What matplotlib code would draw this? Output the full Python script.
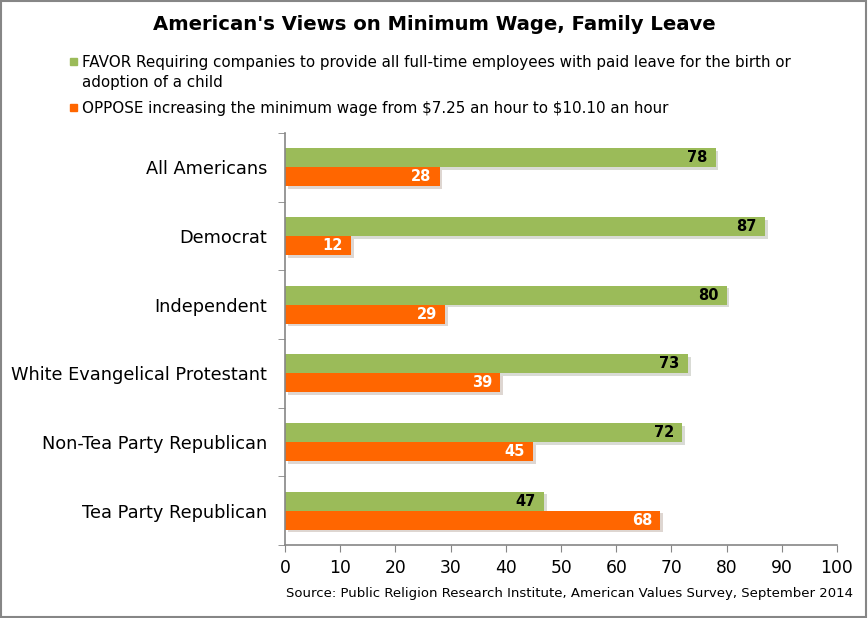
import matplotlib.pyplot as plt
import matplotlib.patheffects as pe
from matplotlib.patches import Rectangle
from matplotlib.ticker import FixedLocator

categories = ['All Americans', 'Democrat', 'Independent',
              'White Evangelical Protestant', 'Non-Tea Party Republican',
              'Tea Party Republican']
favor = [78, 87, 80, 73, 72, 47]
oppose = [28, 12, 29, 39, 45, 68]
x_ticks = [0, 10, 20, 30, 40, 50, 60, 70, 80, 90, 100]

title = "American's Views on Minimum Wage, Family Leave"
favor_label = ['FAVOR Requiring companies to provide all full-time employees with paid leave for the birth or',
               'adoption of a child']
oppose_label = 'OPPOSE increasing the minimum wage from \\$7.25 an hour to \\$10.10 an hour'
source = 'Source: Public Religion Research Institute, American Values Survey, September 2014'

GREEN = '#9BBB59'
ORANGE = '#FF6600'
GREY = '#868686'

plt.rcParams['font.family'] = ['DejaVu Sans']

fig = plt.figure(figsize=(8.68, 6.18), dpi=100)
ax = fig.add_axes([285 / 868, 1 - 545 / 618, 552 / 868, 412 / 618])

h = 0.277
pos = list(range(len(categories)))
shadow = [pe.SimplePatchShadow(offset=(2, -2), alpha=0.18), pe.Normal()]

b1 = ax.barh([p - h / 2 for p in pos], favor, height=h, color=GREEN)
b2 = ax.barh([p + h / 2 for p in pos], oppose, height=h, color=ORANGE)
for bar in list(b1) + list(b2):
    bar.set_path_effects(shadow)

# value labels inside bar ends
for p, v in zip(pos, favor):
    ax.annotate(str(v), (v, p - h / 2), xytext=(-6, 0), textcoords='offset points',
                ha='right', va='center', fontsize=10.5, fontweight='bold', color='black')
for p, v in zip(pos, oppose):
    ax.annotate(str(v), (v, p + h / 2), xytext=(-6, 0), textcoords='offset points',
                ha='right', va='center', fontsize=10.5, fontweight='bold', color='white')

ax.set_xlim(0, 100)
ax.set_ylim(len(categories) - 0.5, -0.5)
ax.set_xticks(x_ticks)
ax.set_xticklabels([str(t) for t in x_ticks], fontsize=12.3)
ax.set_yticks(pos)
ax.set_yticklabels(categories, fontsize=12.8)
ax.yaxis.set_minor_locator(FixedLocator([p - 0.5 for p in pos] + [len(pos) - 0.5]))
ax.tick_params(axis='y', which='major', length=0, pad=13)
ax.tick_params(axis='y', which='minor', length=5, color=GREY, direction='out')
ax.tick_params(axis='x', length=5, color=GREY, direction='out', pad=5)

for s in ['top', 'right']:
    ax.spines[s].set_visible(False)
for s in ['left', 'bottom']:
    ax.spines[s].set_color(GREY)
    ax.spines[s].set_linewidth(1.2)

# title
fig.text(434 / 868, 1 - 25 / 618, title, ha='center', va='center',
         fontsize=14.1, fontweight='bold')

# legend drawn by hand
fig.patches.append(Rectangle((70 / 868, 1 - 65 / 618), 7 / 868, 7 / 618,
                             transform=fig.transFigure, color=GREEN))
fig.text(82 / 868, 1 - 62 / 618, favor_label[0], ha='left', va='center', fontsize=10.9)
fig.text(82 / 868, 1 - 82 / 618, favor_label[1], ha='left', va='center', fontsize=10.9)
fig.patches.append(Rectangle((70 / 868, 1 - 111 / 618), 7 / 868, 7 / 618,
                             transform=fig.transFigure, color=ORANGE))
fig.text(82 / 868, 1 - 108 / 618, oppose_label, ha='left', va='center', fontsize=10.9)

# source
fig.text(853 / 868, 1 - 593 / 618, source, ha='right', va='center', fontsize=9.5)

# outer frame
fig.patches.append(Rectangle((0.001, 0.002), 0.997, 0.996, transform=fig.transFigure,
                             fill=False, edgecolor=GREY, linewidth=1.5))

fig.savefig('out.png', dpi=100)
